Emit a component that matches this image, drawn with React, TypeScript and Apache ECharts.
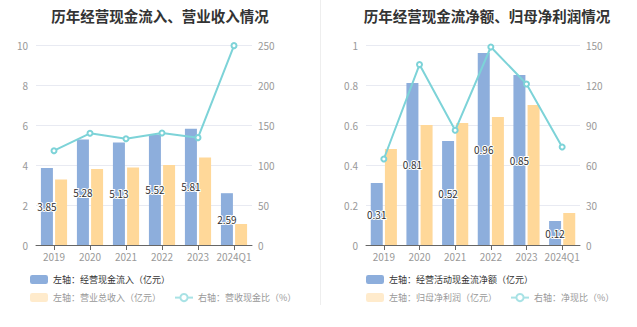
import React, { useEffect, useRef } from "react";
import * as echarts from "echarts";

const categories = ["2019", "2020", "2021", "2022", "2023", "2024Q1"];
const cashInflow = [3.85, 5.28, 5.13, 5.52, 5.81, 2.59];
const revenue = [3.28, 3.8, 3.88, 4.0, 4.37, 1.05];
const cashRevenueRatio = [117.9, 139.6, 132.9, 140.0, 134.2, 249.2];
const netCashFlow = [0.31, 0.81, 0.52, 0.96, 0.85, 0.12];
const netProfit = [0.48, 0.6, 0.61, 0.64, 0.7, 0.16];
const netCashRatio = [64.5, 135.3, 86.0, 148.5, 120.8, 73.5];

const BLUE = "#8DAEDC";
const ORANGE = "#FFD899";
const TEAL = "#7DD3D8";
const FONT = "'Noto Sans CJK SC', 'Noto Sans', sans-serif";

export default function App() {
  const ref = useRef<HTMLDivElement>(null);
  useEffect(() => {
    document.body.style.margin = "0";
    const chart = echarts.init(ref.current!, null, { renderer: "svg" });
    const axisLabel = { color: "#999", fontSize: 10 };
    const xAxisCommon = {
      type: "category",
      data: categories,
      axisTick: { show: true, alignWithLabel: true, lineStyle: { color: "#666" } },
      axisLine: { lineStyle: { color: "#666" } },
      axisLabel: { ...axisLabel, margin: 6, interval: 0 },
    };
    const yLeft = (max: number, interval: number, gridIndex: number) => ({
      type: "value",
      gridIndex,
      min: 0,
      max,
      interval,
      axisLine: { show: false },
      axisTick: { show: false },
      axisLabel: { ...axisLabel, margin: 8 },
      splitLine: { lineStyle: { color: "#e8eaf2" } },
    });
    const yRight = (max: number, interval: number, gridIndex: number) => ({
      type: "value",
      gridIndex,
      position: "right",
      min: 0,
      max,
      interval,
      axisLine: { show: false },
      axisTick: { show: false },
      axisLabel: { ...axisLabel, margin: 6 },
      splitLine: { show: false },
    });
    const barLabel = {
      show: true,
      position: "inside",
      color: "#333",
      fontSize: 10,
      textBorderColor: "#fff",
      textBorderWidth: 2,
    };
    const legendBase = {
      itemWidth: 18,
      itemHeight: 9,
      itemGap: 13,
      width: 300,
    };
    const legendText = { fontSize: 9, color: "#999" };
    const lineLegendItem = (name: string) => ({
      name,
      itemStyle: { color: "#A8E2E5" },
      lineStyle: { color: "#A8E2E5", width: 2 },
    });
    const titleStyle = { fontSize: 14.5, fontWeight: "bold", color: "#333", fontFamily: FONT };
    chart.setOption({
      animation: false,
      textStyle: { fontFamily: FONT },
      title: [
        { text: "历年经营现金流入、营业收入情况", left: 155, textAlign: "center", top: 3, textStyle: titleStyle },
        { text: "历年经营现金流净额、归母净利润情况", left: 482, textAlign: "center", top: 3, textStyle: titleStyle },
      ],
      graphic: [
        {
          type: "line",
          shape: { x1: 320.5, y1: 0, x2: 320.5, y2: 305 },
          style: { stroke: "#eeeeee", lineWidth: 1 },
        },
      ],
      legend: [
        {
          ...legendBase,
          left: 25,
          top: 270,
          icon: "roundRect",
          data: [{ name: "左轴：经营现金流入（亿元）" }],
          textStyle: { fontSize: 9, color: "#333" },
        },
        {
          ...legendBase,
          left: 25,
          top: 288,
          data: [
            { name: "左轴：营业总收入（亿元）", icon: "roundRect", itemStyle: { color: "#FFEBCC" } },
            lineLegendItem("右轴：营收现金比（%）"),
          ],
          textStyle: legendText,
        },
        {
          ...legendBase,
          left: 361,
          top: 270,
          icon: "roundRect",
          data: [{ name: "左轴：经营活动现金流净额（亿元）" }],
          textStyle: { fontSize: 9, color: "#333" },
        },
        {
          ...legendBase,
          left: 361,
          top: 288,
          data: [
            { name: "左轴：归母净利润（亿元）", icon: "roundRect", itemStyle: { color: "#FFEBCC" } },
            lineLegendItem("右轴：净现比（%）"),
          ],
          textStyle: legendText,
        },
      ],
      grid: [
        { left: 36, right: 385, top: 45, bottom: 82 },
        { left: 366, right: 57, top: 45, bottom: 82 },
      ],
      xAxis: [
        { ...xAxisCommon, gridIndex: 0 },
        { ...xAxisCommon, gridIndex: 1 },
      ],
      yAxis: [yLeft(10, 2, 0), yRight(250, 50, 0), yLeft(1, 0.2, 1), yRight(150, 30, 1)],
      series: [
        {
          name: "左轴：经营现金流入（亿元）",
          type: "bar",
          xAxisIndex: 0,
          yAxisIndex: 0,
          data: cashInflow,
          barWidth: 12,
          barGap: "18%",
          itemStyle: { color: BLUE },
          label: barLabel,
        },
        {
          name: "左轴：营业总收入（亿元）",
          type: "bar",
          xAxisIndex: 0,
          yAxisIndex: 0,
          data: revenue,
          barWidth: 12,
          barGap: "18%",
          itemStyle: { color: ORANGE },
        },
        {
          name: "右轴：营收现金比（%）",
          type: "line",
          xAxisIndex: 0,
          yAxisIndex: 1,
          data: cashRevenueRatio,
          symbol: "emptyCircle",
          symbolSize: 5,
          lineStyle: { color: TEAL, width: 2 },
          itemStyle: { color: TEAL },
        },
        {
          name: "左轴：经营活动现金流净额（亿元）",
          type: "bar",
          xAxisIndex: 1,
          yAxisIndex: 2,
          data: netCashFlow,
          barWidth: 12,
          barGap: "18%",
          itemStyle: { color: BLUE },
          label: barLabel,
        },
        {
          name: "左轴：归母净利润（亿元）",
          type: "bar",
          xAxisIndex: 1,
          yAxisIndex: 2,
          data: netProfit,
          barWidth: 12,
          barGap: "18%",
          itemStyle: { color: ORANGE },
        },
        {
          name: "右轴：净现比（%）",
          type: "line",
          xAxisIndex: 1,
          yAxisIndex: 3,
          data: netCashRatio,
          symbol: "emptyCircle",
          symbolSize: 5,
          lineStyle: { color: TEAL, width: 2 },
          itemStyle: { color: TEAL },
        },
      ],
    });
    return () => chart.dispose();
  }, []);
  return <div ref={ref} style={{ width: 637, height: 327 }} />;
}
